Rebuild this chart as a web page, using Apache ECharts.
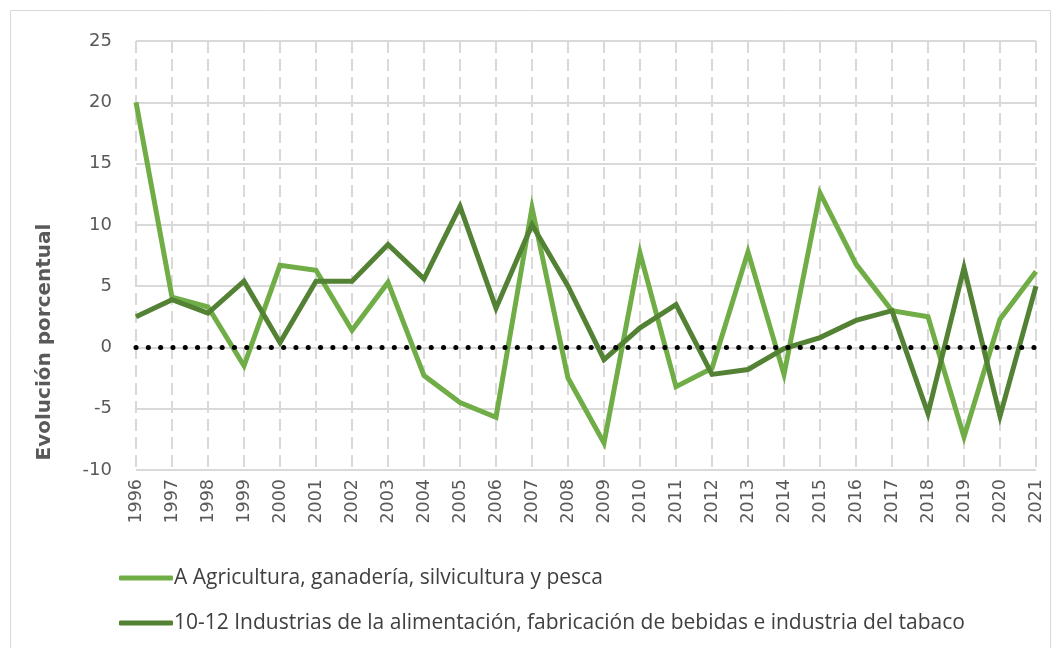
<!DOCTYPE html>
<html>
<head>
<meta charset="utf-8">
<script src="https://cdn.jsdelivr.net/npm/echarts@6/dist/echarts.min.js"></script>
<style>
  html, body { margin: 0; padding: 0; background: #fff; }
  #chart { width: 1054px; height: 648px; }
</style>
</head>
<body>
<div id="chart"></div>
<script>
// años
var years = ['1996','1997','1998','1999','2000','2001','2002','2003','2004','2005','2006','2007','2008',
             '2009','2010','2011','2012','2013','2014','2015','2016','2017','2018','2019','2020','2021'];
// A Agricultura
var agricultura = [20, 4.1, 3.3, -1.5, 6.7, 6.3, 1.4, 5.3, -2.3, -4.5, -5.7, 11.4, -2.5,
                   -7.8, 7.7, -3.2, -1.7, 7.8, -2.2, 12.6, 6.8, 3.0, 2.5, -7.3, 2.3, 6.2];
// 10-12 Industrias alimentación
var alimentacion = [2.5, 3.9, 2.8, 5.4, 0.4, 5.4, 5.4, 8.4, 5.6, 11.5, 3.2, 10.0, 5.0,
                    -1.0, 1.6, 3.5, -2.2, -1.8, -0.1, 0.8, 2.2, 3.0, -5.4, 6.5, -5.6, 5.0];
var yTicks = { min: -10, max: 25, interval: 5 };
var names = ['A Agricultura, ganadería, silvicultura y pesca',
             '10-12 Industrias de la alimentación, fabricación de bebidas e industria del tabaco'];

var myChart = echarts.init(document.getElementById('chart'));
var option = {
    animation: false,
    color: ['#70ad47', '#548235'],
    graphic: [{
        type: 'rect',
        shape: { x: 10.5, y: 10.5, width: 1040, height: 650 },
        style: { fill: 'none', stroke: '#d9d9d9', lineWidth: 1 }
    }, {
        // título del eje Y
        type: 'text',
        x: 45,
        y: 342,
        rotation: Math.PI / 2,
        style: {
            text: 'Evolución porcentual',
            fontFamily: 'DejaVu Sans', fontWeight: 'bold', fontSize: 20, fill: '#595959',
            align: 'center', verticalAlign: 'middle'
        }
    }],
    grid: { left: 136, right: 18, top: 41, bottom: 178 },
    legend: {
        orient: 'vertical',
        left: 114,
        top: 562,
        itemGap: 23,
        itemWidth: 54,
        itemHeight: 5,
        icon: 'roundRect',
        textStyle: { fontFamily: 'Open Sans', fontSize: 21, lineHeight: 22, color: '#404040', padding: [0, 0, 0, -4] },
        data: names
    },
    xAxis: {
        type: 'category',
        data: years,
        boundaryGap: false,
        axisLine: { show: false },
        axisTick: { show: false },
        axisLabel: { rotate: 90, fontFamily: 'DejaVu Sans', fontSize: 17.5, color: '#595959', margin: 9 },
        splitLine: { show: true, lineStyle: { color: '#d9d9d9', width: 2, type: [12, 6] } }
    },
    yAxis: {
        type: 'value',
        min: yTicks.min,
        max: yTicks.max,
        interval: yTicks.interval,
        axisLine: { show: false },
        axisTick: { show: false },
        axisLabel: { fontFamily: 'DejaVu Sans', fontSize: 18, color: '#595959', margin: 24 },
        splitLine: { lineStyle: { color: '#d9d9d9', width: 2 } }
    },
    series: [
        {
            name: names[0],
            type: 'line',
            data: agricultura,
            showSymbol: false,
            lineStyle: { width: 5, join: 'miter' },
            markLine: {
                silent: true,
                symbol: 'none',
                label: { show: false },
                lineStyle: { color: '#000', type: [0.1, 12.2], cap: 'round', width: 5 },
                data: [{ yAxis: 0 }]
            }
        },
        {
            name: names[1],
            type: 'line',
            data: alimentacion,
            showSymbol: false,
            lineStyle: { width: 5, join: 'miter' }
        }
    ]
};
myChart.setOption(option);
</script>
</body>
</html>
